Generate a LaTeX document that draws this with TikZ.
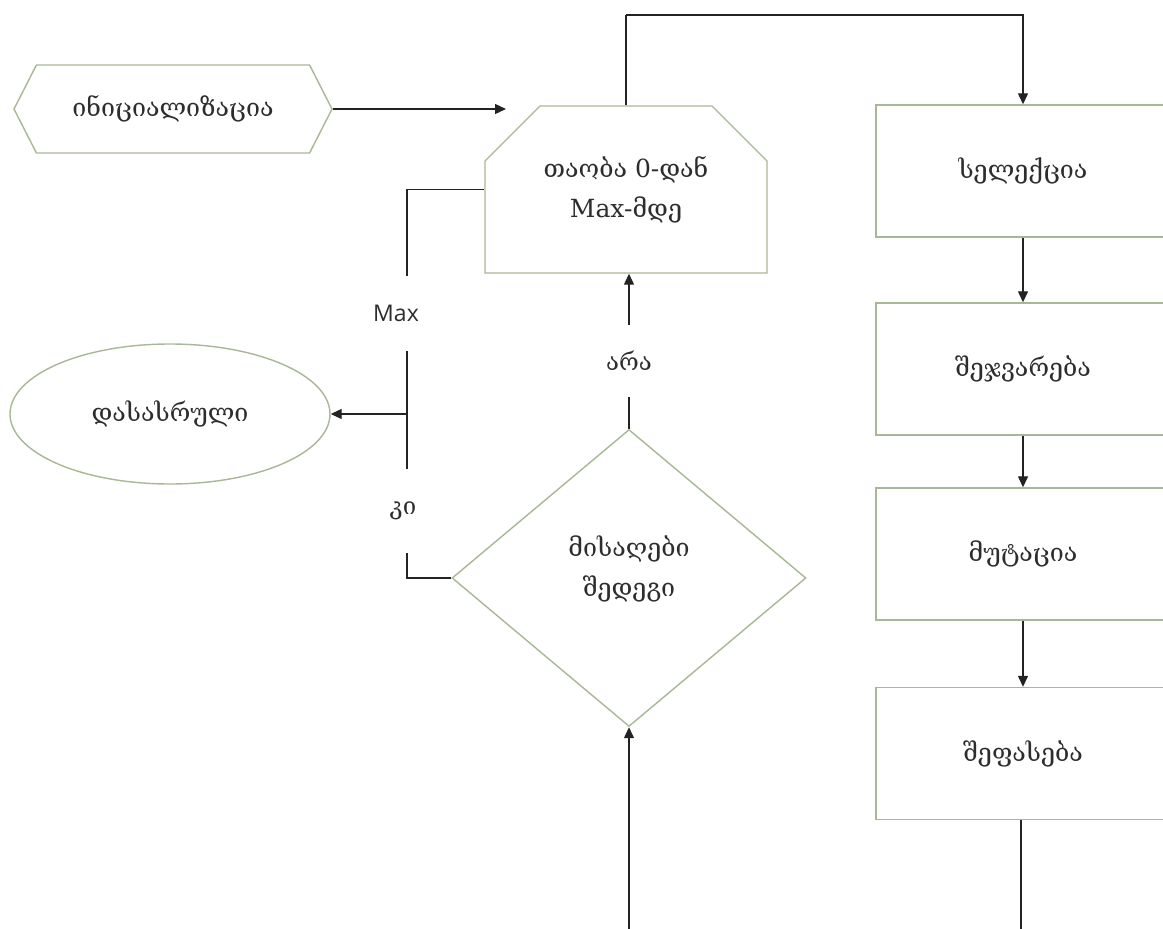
\documentclass[tikz,border=0pt]{standalone}
\usepackage{fontspec}
\setmainfont{DejaVu Serif}
\newfontfamily\labelfont{Open Sans}
\usetikzlibrary{shapes.geometric,shapes.misc,shapes.symbols,arrows.meta}
\definecolor{boxedge}{RGB}{168,184,150}
\definecolor{wire}{RGB}{35,35,35}
\definecolor{ink}{RGB}{45,45,45}
\begin{document}
\begin{tikzpicture}[x=1pt,y=-1pt]
    \tikzstyle{block}=[draw=boxedge, line width=1.4pt, fill=white, text=ink, font=\fontsize{25}{40}\selectfont, align=center, inner sep=0pt]
    \tikzstyle{stepbox}=[block, rectangle, minimum width=294pt, minimum height=132pt]
    \tikzstyle{arr}=[draw=wire, line width=1.3pt, -{Triangle[length=11pt,width=10pt]}]
    \tikzstyle{wire}=[draw=wire, line width=1.3pt]
    \tikzstyle{gap}=[text=ink, inner sep=0pt, minimum width=20pt, font=\fontsize{24}{28}\selectfont]
    \useasboundingbox (0,0) rectangle (1163,929);
    \clip (0,0) rectangle (1163,929);
    \fill[white] (0,0) rectangle (1163,929);
    % left column
    \node[block, signal, signal to=west and east, signal pointer angle=126, minimum width=318pt, minimum height=88pt] (init) at (173,109) {ინიციალიზაცია};
    \node[block, chamfered rectangle, chamfered rectangle corners={north west,north east}, chamfered rectangle xsep=28pt, chamfered rectangle ysep=27pt, minimum width=282pt, minimum height=167pt] (loop) at (626,189.5) {თაობა 0-დან\\Max-მდე};
    \node[block, ellipse, minimum width=320pt, minimum height=140pt] (end) at (170,414) {დასასრული};
    \node[block, diamond, minimum width=354pt, minimum height=297pt] (dec) at (629,578) {მისაღები\\შედეგი\\[-16pt]~};
    % right column
    \node[stepbox] (sel) at (1023,171) {სელექცია};
    \node[stepbox] (cross) at (1023,369) {შეჯვარება};
    \node[stepbox] (mut) at (1023,554) {მუტაცია};
    \node[stepbox] (eval) at (1023,753.5) {შეფასება};
    % labels on the wires
    \node[gap, minimum height=72pt] (no) at (629,361) {არა};
    \node[gap, minimum height=84pt] (yes) at (407,511) {\hspace*{-8pt}კი};
    \node[gap, minimum height=75pt, font=\labelfont\fontsize{23}{26}\selectfont] (maxl) at (407,313.5) {\hspace*{-22pt}Max};
    \coordinate (intip) at (506,109);
    \coordinate (top) at (626,15);
    \coordinate (split) at (407,414);
    \coordinate (botL) at (629,940);
    \coordinate (botR) at (1021,940);
    % connectors
    \draw[arr] (init.east) -- (intip);
    \draw[wire] (loop.north) -- (top);
    \draw[arr] (top) -| (sel.north);
    \draw[arr] (sel) -- (cross);
    \draw[arr] (cross) -- (mut);
    \draw[arr] (mut) -- (eval);
    \draw[wire] (eval.south -| botR) -- (botR);
    \draw[arr] (botL) -- (dec.south);
    \draw[wire] (dec.north) -- (no.south);
    \draw[arr] (no.north) -- (no.north |- loop.south);
    \draw[wire] (dec.west) -| (yes.south);
    \draw[wire] (yes.north) -- (maxl.south);
    \draw[wire] (maxl.north) |- (loop.west);
    \draw[arr] (split) -- (end.east);
\end{tikzpicture}
\end{document}
